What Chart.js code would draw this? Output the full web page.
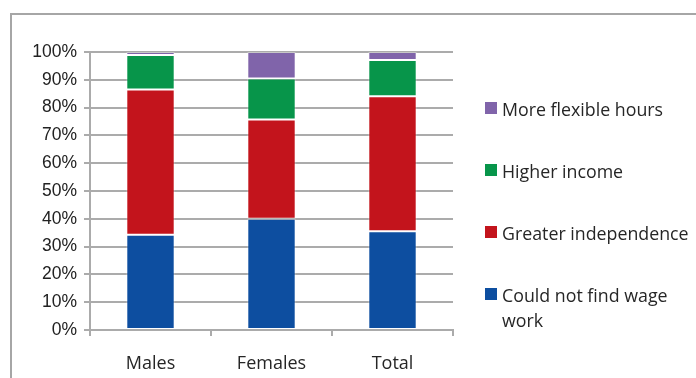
<!DOCTYPE html>
<html>
<head>
<meta charset="utf-8">
<script src="https://cdn.jsdelivr.net/npm/chart.js@4/dist/chart.umd.min.js"></script>
<style>
  html, body { margin: 0; padding: 0; background: #fff; }
  canvas { display: block; }
</style>
</head>
<body>
<canvas id="myChart" width="696" height="378"></canvas>
<script>
// data (percent of each group)
const categories = ['Males', 'Females', 'Total'];
const couldNotFind = [34.3, 40.0, 35.5];
const independence = [52.2, 35.7, 48.6];
const higherIncome = [12.4, 14.8, 13.0];
const flexibleHours = [1.1, 9.5, 2.9];
const yTicks = [0, 10, 20, 30, 40, 50, 60, 70, 80, 90, 100];

const GRID = '#ababab';

function createDataset(label, data, color) {
  return {
    label,
    data,
    backgroundColor: color,
    borderColor: 'rgba(255,255,255,0.35)',
    borderWidth: 1,
    borderSkipped: false,
    barPercentage: 0.4,
    categoryPercentage: 1,
  };
}

// grey frame round the whole chart, cut off on the right and bottom
const framePlugin = {
  id: 'frame',
  beforeDraw(chart) {
    const c = chart.ctx;
    c.save();
    c.strokeStyle = '#a6a6a6';
    c.lineWidth = 2;
    c.strokeRect(11, 14, 720, 400);
    c.restore();
  },
};

// legend on the right, top item first, long labels wrap
const sideLegend = {
  id: 'sideLegend',
  afterDraw(chart) {
    const c = chart.ctx;
    const sets = chart.data.datasets.slice().reverse();
    const rows = [108, 170, 232, 294];
    c.save();
    c.font = '17.8px "Open Sans"';
    c.textBaseline = 'middle';
    sets.forEach((ds, i) => {
      const y = rows[i];
      c.fillStyle = ds.backgroundColor;
      c.fillRect(485, y - 6, 12, 12);
      c.fillStyle = '#262626';
      const lines = wrap(c, ds.label, 192);
      lines.forEach((ln, j) => c.fillText(ln, 502, y + 3 + j * 25));
    });
    c.restore();
  },
};

function wrap(c, text, maxW) {
  const words = text.split(' ');
  const out = [];
  let cur = '';
  words.forEach(w => {
    const t = cur ? cur + ' ' + w : w;
    if (c.measureText(t).width > maxW && cur) {
      out.push(cur);
      cur = w;
    } else cur = t;
  });
  out.push(cur);
  return out;
}

const ctx = document.getElementById('myChart').getContext('2d');
new Chart(ctx, {
  type: 'bar',
  data: {
    labels: categories,
    datasets: [
      createDataset('Could not find wage work', couldNotFind, '#0d4ea0'),
      createDataset('Greater independence', independence, '#c3141c'),
      createDataset('Higher income', higherIncome, '#07954a'),
      createDataset('More flexible hours', flexibleHours, '#8064aa'),
    ],
  },
  options: {
    responsive: false,
    animation: false,
    devicePixelRatio: 1,
    layout: { padding: { top: 52, left: 0, right: 243, bottom: 0 } },
    plugins: {
      legend: { display: false },
      title: { display: false },
      tooltip: { enabled: false },
    },
    scales: {
      x: {
        stacked: true,
        grid: {
          display: true,
          drawOnChartArea: false,
          drawTicks: true,
          tickLength: 6,
          color: GRID,
          lineWidth: 2,
          offset: true,
        },
        border: { display: true, color: GRID, width: 2 },
        ticks: {
          color: '#262626',
          font: { family: '"Open Sans"', size: 18 },
          padding: 17,
          maxRotation: 0,
        },
        afterFit(scale) { scale.height = 48; },
      },
      y: {
        stacked: true,
        min: 0,
        max: 100,
        afterBuildTicks(scale) {
          scale.ticks = yTicks.map(v => ({ value: v }));
        },
        grid: {
          color: GRID,
          lineWidth: 2,
          drawTicks: true,
          tickLength: 6,
        },
        border: { display: true, color: GRID, width: 2 },
        ticks: {
          color: '#222',
          font: { family: '"Liberation Sans", Arial', size: 17.5 },
          padding: 7,
          callback: v => v + '%',
        },
        afterFit(scale) { scale.width = 90; },
      },
    },
  },
  plugins: [framePlugin, sideLegend],
});
</script>
</body>
</html>
